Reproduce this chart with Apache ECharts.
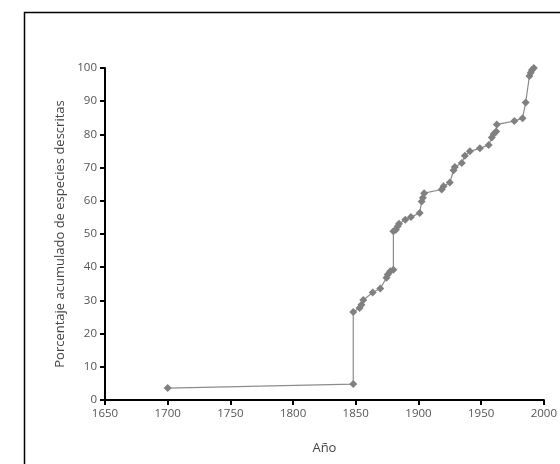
<!DOCTYPE html>
<html>
<head>
<meta charset="utf-8">
<script src="https://cdn.jsdelivr.net/npm/echarts@6/dist/echarts.min.js"></script>
<style>html,body{margin:0;padding:0;background:#fff;}#c{width:560px;height:464px;}</style>
</head>
<body>
<div id="c"></div>
<script>
var years = [1700, 1848, 1848, 1853, 1854.5, 1856, 1863.5, 1869.5, 1874.5, 1875.5, 1877.5, 1880, 1880, 1882, 1883.5, 1884.5, 1889.5, 1894, 1901, 1902.5, 1903.5, 1904.5, 1918.5, 1920, 1925, 1928, 1929, 1934.5, 1937, 1941, 1949, 1956, 1958.5, 1960, 1962, 1962.5, 1976.5, 1983, 1985.5, 1988.5, 1989.5, 1990.5, 1992];
var percents = [3.6, 4.8, 26.5, 27.7, 28.7, 30.1, 32.4, 33.6, 36.8, 37.8, 38.8, 39.2, 50.8, 51.3, 52.3, 53.1, 54.3, 55.1, 56.3, 59.8, 60.9, 62.3, 63.4, 64.4, 65.5, 69.2, 70.2, 71.4, 73.6, 74.9, 75.8, 76.8, 79.1, 80.1, 80.9, 83.0, 84.0, 84.9, 89.6, 97.6, 98.6, 99.4, 100];
var xTicks = [1650, 2000, 50];
var yTicks = [0, 100, 10];

var data = years.map(function (y, i) { return [y, percents[i]]; });
var chart = echarts.init(document.getElementById('c'), null, {renderer: 'canvas'});
var font = '"Open Sans", Lato, sans-serif';
chart.setOption({
  animation: false,
  backgroundColor: '#fff',
  graphic: [{
    type: 'rect', left: 22, top: 10, z: -1,
    shape: {x: 0, y: 0, width: 560, height: 470},
    style: {fill: 'none', stroke: '#000', lineWidth: 1.5}
  }],
  grid: {left: 105, right: 13, top: 68, bottom: 64},
  xAxis: {
    type: 'value', min: xTicks[0], max: xTicks[1], interval: xTicks[2],
    name: 'Año', nameLocation: 'middle', nameGap: 42,
    nameTextStyle: {color: '#444', fontSize: 13, fontFamily: font},
    axisLine: {lineStyle: {color: '#000', width: 2}},
    axisTick: {length: 5, lineStyle: {color: '#000', width: 2}},
    axisLabel: {color: '#555', fontSize: 11.5, fontFamily: font, margin: 8,
      formatter: function (v) { return String(v); }},
    splitLine: {show: false}
  },
  yAxis: {
    type: 'value', min: yTicks[0], max: yTicks[1], interval: yTicks[2],
    name: 'Porcentaje acumulado de especies descritas', nameLocation: 'middle', nameGap: 36,
    nameTextStyle: {color: '#444', fontSize: 13, fontFamily: font},
    axisLine: {show: true, lineStyle: {color: '#000', width: 2}},
    axisTick: {show: true, length: 5, lineStyle: {color: '#000', width: 2}},
    axisLabel: {color: '#555', fontSize: 11.5, fontFamily: font, margin: 8},
    splitLine: {show: false}
  },
  series: [{
    type: 'line',
    data: data,
    symbol: 'diamond',
    symbolSize: 8,
    itemStyle: {color: '#808080'},
    lineStyle: {color: '#8c8c8c', width: 1.2}
  }]
});
</script>
</body>
</html>
